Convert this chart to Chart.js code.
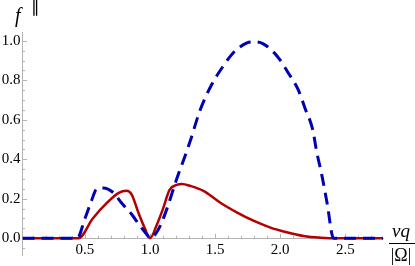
<!DOCTYPE html>
<html>
<head>
<meta charset="utf-8">
<script src="https://cdn.jsdelivr.net/npm/chart.js@4"></script>
<style>
  html, body { margin: 0; padding: 0; background: #fff; }
  #wrap { width: 415px; height: 266px; position: relative; }
</style>
</head>
<body>
<div id="wrap"><canvas id="c"></canvas></div>
<script>
// blue dashed curve: (x, y)
const blueX = [0.02, 0.44, 0.50, 0.55, 0.59, 0.64, 0.72, 0.78, 0.86, 0.92, 0.98, 1.00,
  1.04, 1.08, 1.13, 1.17, 1.21, 1.26, 1.31, 1.385, 1.475, 1.56, 1.64, 1.745, 1.80,
  1.87, 1.98, 2.06, 2.14, 2.19, 2.25, 2.28, 2.32, 2.36, 2.41, 2.79];
const blueY = [0, 0, 0.10, 0.19, 0.25, 0.255, 0.23, 0.18, 0.12, 0.065, 0.015, 0,
  0.02, 0.065, 0.15, 0.23, 0.31, 0.40, 0.495, 0.65, 0.78, 0.87, 0.94, 0.99, 0.995,
  0.985, 0.92, 0.84, 0.75, 0.66, 0.55, 0.44, 0.32, 0.18, 0, 0];

// red solid curve
const redX = [0.02, 0.45, 0.56, 0.67, 0.76, 0.82, 0.86, 0.91, 0.96, 1.00,
  1.05, 1.10, 1.15, 1.205, 1.245, 1.31, 1.41, 1.54, 1.67, 1.79, 1.92, 2.05, 2.18, 2.31, 2.38, 2.79];
const redY = [0, 0, 0.10, 0.18, 0.23, 0.24, 0.22, 0.13, 0.05, 0,
  0.065, 0.15, 0.245, 0.27, 0.275, 0.265, 0.24, 0.18, 0.13, 0.09, 0.055, 0.03, 0.011, 0.002, 0, 0];

const xTicks = [0.5, 1.0, 1.5, 2.0, 2.5];
const xMinorTicks = [0.1, 0.2, 0.3, 0.4, 0.6, 0.7, 0.8, 0.9, 1.1, 1.2, 1.3, 1.4, 1.6, 1.7, 1.8, 1.9,
  2.1, 2.2, 2.3, 2.4, 2.6, 2.7];
const yTicks = [0.0, 0.2, 0.4, 0.6, 0.8, 1.0];
const yMinorTicks = [-0.05, 0.05, 0.1, 0.15, 0.25, 0.3, 0.35, 0.45, 0.5, 0.55, 0.65, 0.7, 0.75,
  0.85, 0.9, 0.95];

const pts = (xs, ys) => xs.map((x, i) => ({ x, y: ys[i] }));
const axisGrey = '#b4b4b4';
const serif = 'Liberation Serif';

Chart.defaults.font.family = serif;
Chart.defaults.color = '#000';

// inward tick marks + axis labels, Mathematica style
const decor = {
  id: 'decor',
  beforeDatasetsDraw(ch) {
    const { ctx } = ch;
    const sx = ch.scales.x, sy = ch.scales.y;
    const y0 = sy.getPixelForValue(0);
    const x0 = ch.chartArea.left;
    ctx.save();
    ctx.strokeStyle = axisGrey;
    ctx.lineWidth = 1;
    ctx.beginPath();
    for (const v of xTicks) { const p = Math.round(sx.getPixelForValue(v)) + 0.5; ctx.moveTo(p, y0); ctx.lineTo(p, y0 - 4.5); }
    for (const v of xMinorTicks) { const p = Math.round(sx.getPixelForValue(v)) + 0.5; ctx.moveTo(p, y0); ctx.lineTo(p, y0 - 2.5); }
    for (const v of yTicks) { const p = Math.round(sy.getPixelForValue(v)) + 0.5; ctx.moveTo(x0, p); ctx.lineTo(x0 + 4.5, p); }
    for (const v of yMinorTicks) { const p = Math.round(sy.getPixelForValue(v)) + 0.5; ctx.moveTo(x0, p); ctx.lineTo(x0 + 2.5, p); }
    ctx.stroke();
    ctx.restore();
  },
  afterDraw(ch) {
    const { ctx } = ch;
    ctx.save();
    ctx.fillStyle = '#000';
    ctx.textBaseline = 'alphabetic';
    // y label
    ctx.font = 'italic 20px "Liberation Serif"';
    ctx.fillText('f', 15, 22);
    ctx.font = '17px "Liberation Serif"';
    ctx.fillText('\u2225', 31, 12);
    // x label as fraction
    ctx.textAlign = 'center';
    ctx.font = 'italic 19px "Liberation Serif"';
    ctx.fillText('vq', 401, 237);
    ctx.strokeStyle = '#000';
    ctx.lineWidth = 1;
    ctx.beginPath();
    ctx.moveTo(389, 243.5);
    ctx.lineTo(415, 243.5);
    ctx.stroke();
    ctx.font = '18px "Liberation Serif"';
    ctx.fillText('|\u03A9|', 401, 261);
    ctx.restore();
  }
};

new Chart(document.getElementById('c'), {
  type: 'line',
  data: {
    datasets: [
      {
        label: 'blue',
        data: pts(blueX, blueY),
        borderColor: '#0000b4',
        borderWidth: 3,
        borderDash: [12, 7],
        borderCapStyle: 'butt',
        cubicInterpolationMode: 'monotone',
        pointRadius: 0,
        fill: false,
      },
      {
        label: 'red',
        data: pts(redX, redY),
        borderColor: '#b40000',
        borderWidth: 2.5,
        cubicInterpolationMode: 'monotone',
        pointRadius: 0,
        fill: false,
      },
    ],
  },
  options: {
    responsive: true,
    maintainAspectRatio: false,
    animation: false,
    events: [],
    layout: { padding: { left: 0, right: 32, top: 32, bottom: 6 } },
    plugins: { legend: { display: false }, tooltip: { enabled: false } },
    scales: {
      x: {
        type: 'linear',
        position: { y: 0 },
        min: 0.02,
        max: 2.79,
        afterBuildTicks: (s) => { s.ticks = xTicks.map(v => ({ value: v })); },
        grid: { display: false, drawTicks: false },
        border: { display: true, color: axisGrey, width: 1 },
        ticks: {
          color: '#000',
          padding: 3,
          maxRotation: 0,
          autoSkip: false,
          font: { family: serif, size: 15 },
          callback: (v) => Number(v).toFixed(1),
        },
      },
      y: {
        type: 'linear',
        min: -0.085,
        max: 1.045,
        afterBuildTicks: (s) => { s.ticks = yTicks.map(v => ({ value: v })); },
        afterFit: (s) => { s.width = 22.5; },
        grid: { display: false, drawTicks: false },
        border: { display: true, color: axisGrey, width: 1 },
        ticks: {
          color: '#000',
          padding: 2,
          autoSkip: false,
          font: { family: serif, size: 15 },
          callback: (v) => Number(v).toFixed(1),
        },
      },
    },
  },
  plugins: [decor],
});
</script>
</body>
</html>
